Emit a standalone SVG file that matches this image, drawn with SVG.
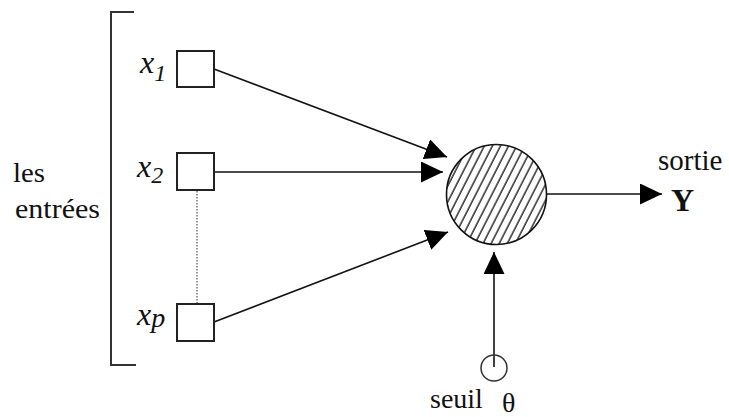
<svg xmlns="http://www.w3.org/2000/svg" width="729" height="417" viewBox="0 0 729 417">
<style>
text{font-family:"Liberation Serif","Times New Roman","DejaVu Serif",serif;fill:#111}
.v{font-style:italic}
.box{fill:#fff;stroke:#222;stroke-width:2}
.ln{stroke:#111;stroke-width:1.6;fill:none}
</style>
<defs>
<marker id="ah" markerUnits="userSpaceOnUse" markerWidth="24" markerHeight="22" refX="22" refY="10.5" orient="auto">
<path d="M0,0 L22,10.5 L0,21 z" fill="#000"/>
</marker>
<pattern id="hatch" patternUnits="userSpaceOnUse" width="7.2" height="10" patternTransform="rotate(27)">
<line x1="1" y1="-2" x2="1" y2="12" stroke="#111" stroke-width="1.3"/>
</pattern>
</defs>
<g id="bracket">
<path d="M134,12 H111 V365 H136" fill="none" stroke="#333" stroke-width="2"/>
</g>
<g id="label-entrees">
<text x="13" y="182" font-size="28" textLength="32" lengthAdjust="spacingAndGlyphs">les</text>
<text x="15" y="218" font-size="28" textLength="85" lengthAdjust="spacingAndGlyphs">entrées</text>
</g>
<g id="connectors">
<line x1="197" y1="191" x2="197" y2="303" stroke="#777" stroke-width="1.5" stroke-dasharray="1.5,1.5"/>
<line class="ln" x1="214" y1="69" x2="447" y2="157" marker-end="url(#ah)"/>
<line class="ln" x1="214" y1="172" x2="443" y2="172" marker-end="url(#ah)"/>
<line class="ln" x1="214" y1="322" x2="448" y2="232" marker-end="url(#ah)"/>
<line class="ln" x1="494" y1="367" x2="494" y2="252" marker-end="url(#ah)"/>
<line class="ln" x1="546" y1="194" x2="662" y2="194" marker-end="url(#ah)"/>
</g>
<g id="x1">
<rect class="box" x="177" y="51" width="37" height="36"/>
<text class="v" x="140" y="73" font-size="32">x<tspan font-size="24" dy="8">1</tspan></text>
</g>
<g id="x2">
<rect class="box" x="177" y="153" width="37" height="37"/>
<text class="v" x="137" y="177" font-size="32">x<tspan font-size="24" dy="6">2</tspan></text>
</g>
<g id="xp">
<rect class="box" x="177" y="304" width="37" height="37"/>
<text class="v" x="137" y="325" font-size="32">x<tspan font-size="28" dy="2">p</tspan></text>
</g>
<g id="neuron">
<circle cx="496.5" cy="194.5" r="50" fill="url(#hatch)" stroke="#111" stroke-width="1.6"/>
</g>
<g id="seuil">
<circle cx="494" cy="368" r="13" fill="none" stroke="#333" stroke-width="1.5"/>
<text x="430" y="408" font-size="28">seuil</text>
<text x="502" y="412" font-size="28">θ</text>
</g>
<g id="sortie">
<text x="658" y="170" font-size="29">sortie</text>
<text x="671" y="211" font-size="32" font-weight="bold">Y</text>
</g>
</svg>
